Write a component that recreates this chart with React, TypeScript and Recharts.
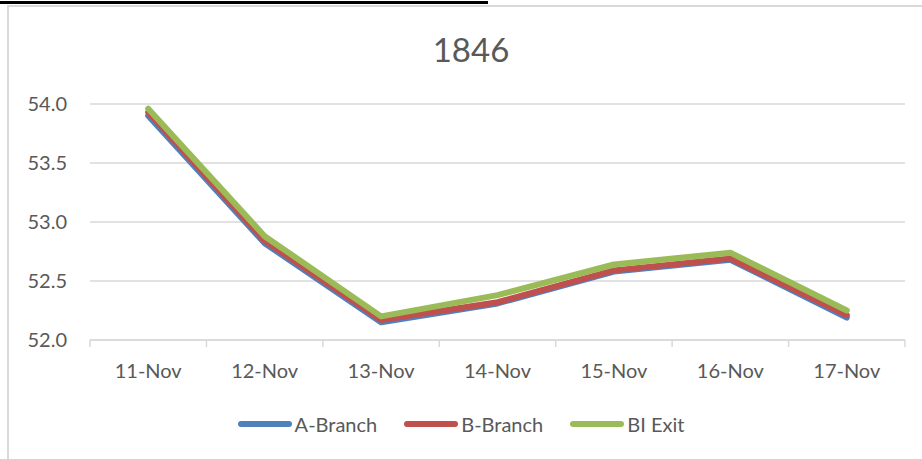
import { CartesianGrid, Line, LineChart, XAxis, YAxis } from "recharts";

const DATES = ["11-Nov", "12-Nov", "13-Nov", "14-Nov", "15-Nov", "16-Nov", "17-Nov"];
const A_BRANCH = [53.9, 52.82, 52.15, 52.31, 52.58, 52.68, 52.19];
const B_BRANCH = [53.93, 52.84, 52.17, 52.32, 52.59, 52.69, 52.21];
const BI_EXIT = [53.96, 52.88, 52.2, 52.38, 52.64, 52.74, 52.25];
const Y_TICKS = [52, 52.5, 53, 53.5, 54];

const SERIES = [
  { key: "a", name: "A-Branch", color: "#4F81BD" },
  { key: "b", name: "B-Branch", color: "#C0504D" },
  { key: "c", name: "BI Exit", color: "#9BBB59" },
];

const data = DATES.map((name, i) => ({ name, a: A_BRANCH[i], b: B_BRANCH[i], c: BI_EXIT[i] }));

const FONT = "Lato, 'Noto Sans', sans-serif";
const TEXT = "#595959";
const GRID = "#d9d9d9";
const BAND = 815 / DATES.length;

function XTick(props: any) {
  const { x, y, payload, index } = props;
  return (
    <g>
      <line x1={x - BAND / 2} y1={y} x2={x - BAND / 2} y2={y + 7} stroke={GRID} strokeWidth={1.5} />
      {index === DATES.length - 1 ? (
        <line x1={x + BAND / 2} y1={y} x2={x + BAND / 2} y2={y + 7} stroke={GRID} strokeWidth={1.5} />
      ) : null}
      <text x={x} y={y + 38} textAnchor="middle" fill={TEXT} fontSize={20} fontFamily={FONT}>
        {payload.value}
      </text>
    </g>
  );
}

export default function App() {
  return (
    <div style={{ position: "absolute", left: 0, top: 0, width: 922, height: 459, background: "#fff", overflow: "hidden", fontFamily: FONT }}>
      <div style={{ position: "absolute", left: 0, top: 1, width: 488, height: 3, background: "#000" }} />
      <div style={{ position: "absolute", left: 7, top: 5, width: 940, height: 480, borderLeft: `2px solid ${GRID}`, borderTop: `2px solid ${GRID}` }} />
      <div style={{ position: "absolute", left: 471, top: 33, transform: "translateX(-50%)", fontSize: 33, lineHeight: "33px", color: TEXT }}>
        1846
      </div>
      <div style={{ position: "absolute", left: 0, top: 0 }}>
        <LineChart width={922} height={459} data={data} margin={{ top: 104, right: 17, bottom: 89, left: 0 }}>
          <CartesianGrid vertical={false} stroke={GRID} strokeWidth={1.5} />
          <XAxis
            dataKey="name"
            height={30}
            padding={{ left: BAND / 2, right: BAND / 2 }}
            axisLine={{ stroke: GRID, strokeWidth: 1.5 }}
            tickLine={false}
            tickSize={0}
            tickMargin={0}
            tick={<XTick />}
            interval={0}
          />
          <YAxis
            width={90}
            domain={[52, 54]}
            ticks={Y_TICKS}
            axisLine={false}
            tickLine={false}
            tickSize={0}
            tickMargin={23}
            tickFormatter={(v: number) => v.toFixed(1)}
            tick={{ fill: TEXT, fontSize: 20, fontFamily: FONT }}
          />
          {SERIES.map((s) => (
            <Line
              key={s.key}
              type="linear"
              dataKey={s.key}
              name={s.name}
              stroke={s.color}
              strokeWidth={6}
              strokeLinecap="round"
              strokeLinejoin="round"
              dot={false}
              activeDot={false}
              isAnimationActive={false}
            />
          ))}
        </LineChart>
      </div>
      <div style={{ position: "absolute", left: 0, top: 412, width: 922, height: 24, display: "flex", justifyContent: "center", alignItems: "center", gap: 27 }}>
        {SERIES.map((s) => (
          <div key={s.key} style={{ display: "flex", alignItems: "center", gap: 3 }}>
            <div style={{ width: 54, height: 6, borderRadius: 3, background: s.color }} />
            <span style={{ fontSize: 20, lineHeight: "24px", color: TEXT }}>{s.name}</span>
          </div>
        ))}
      </div>
    </div>
  );
}
